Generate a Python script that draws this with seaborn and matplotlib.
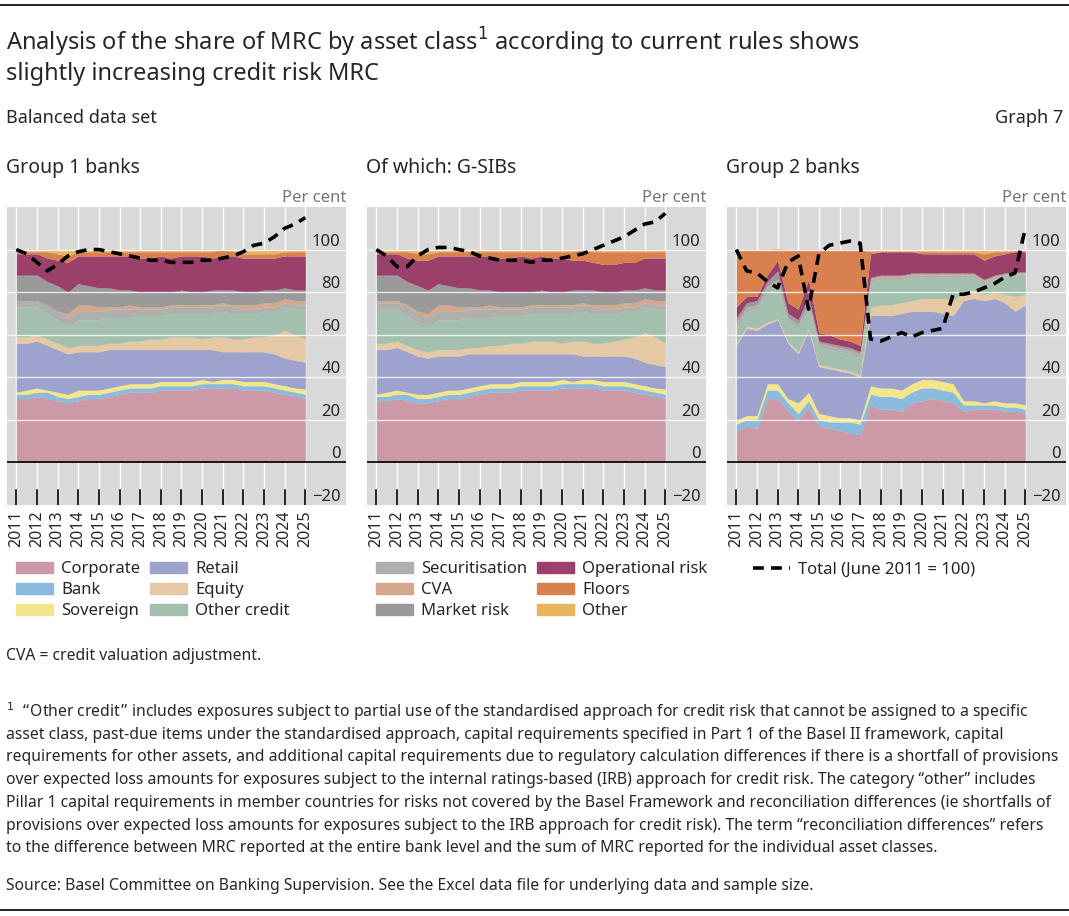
import numpy as np
import matplotlib
matplotlib.use("Agg")
import matplotlib.pyplot as plt
import seaborn as sns
from matplotlib.lines import Line2D
from matplotlib.patches import Patch

sns.set_theme(style="white")
plt.rcParams['font.family'] = ['Noto Sans', 'DejaVu Sans']

years = np.arange(2011, 2025.01, 0.5)
year_ticks = list(range(2011, 2026))
layers = ["Corporate", "Bank", "Sovereign", "Retail", "Equity", "Other credit",
          "Securitisation", "CVA", "Market risk", "Operational risk", "Floors", "Other"]
colors = {"Corporate": "#cc99a6", "Bank": "#8bbadf", "Sovereign": "#f3e68a",
          "Retail": "#9da3cc", "Equity": "#e5c9a4", "Other credit": "#a3bfad",
          "Securitisation": "#adb0ad", "CVA": "#d4a88c", "Market risk": "#9a9a9a",
          "Operational risk": "#9b3f6b", "Floors": "#d9804f", "Other": "#e8b55a"}

# cumulative tops (per cent of MRC), semi-annual 2011-2025
g1_tops = {
 "Corporate":      [30,30,31,30,29,28,29,30,30,31,32,33,33,33,34,34,34,34,35,35,35,35,34,34,34,33,32,31,30],
 "Bank":           [32,32,33,33,31,30,31,32,32,33,34,35,35,35,36,36,36,36,37,37,37,37,36,36,36,35,34,33,32],
 "Sovereign":      [33,34,35,34,33,32,34,34,34,35,36,37,37,37,38,38,38,38,39,38,39,39,38,38,38,37,36,35,34.5],
 "Retail":         [56,56,57,55,53,51,52,52,52,53,53,53,53,53,53,53,53,53,53,53,52,52,52,52,52,51,49,48,47],
 "Equity":         [59,59,60,58,56,54,55,55,55,56,56,57,57,58,58,59,59,59,58,59,59,58,58,59,59,60,62,60,58],
 "Other credit":   [73,73,73,70,67,64,67,67,67,68,68,68,69,69,69,70,70,70,70,70,71,70,70,70,71,71,73,72,72],
 "Securitisation": [76,76,76,74,71,68,71,71,71,72,72,72,72,72,72,73,73,73,73,73,74,73,72,72,73,73,75,74,74],
 "CVA":            [76,76,76,74,71,70,74,74,73,73,73,74,73,73,73,74,74,74,74,74,75,74,74,74,75,75,77,76,76],
 "Market risk":    [88,88,88,85,83,80,84,83,82,82,81,81,80,80,80,80,81,80,80,81,81,81,80,80,81,81,82,81,81],
 "Operational risk":[98,98,98,96,95,94,97,97,97,97,97,97,96,96,97,96,97,97,97,96,97,97,96,96,96,96,97,97,97],
 "Floors":         [99,99,99,99,98,97,99,99,99,99,99,99,99,99,99,99,99,99,99,99,100,99,98,98,98,98,99,99,99],
 "Other":          [100]*29,
}
g1_total = [100,98,94,90,93,97,99,100,100,99,98,97,96,95,95,94,94,94,95,95,96,97,99,102,103,106,110,112,115]

gs_tops = {
 "Corporate":      [29,29,30,29,28,28,29,30,30,31,32,33,33,33,34,34,34,34,35,35,35,35,34,34,34,33,32,31,30],
 "Bank":           [31,31,32,32,30,30,31,32,32,33,34,35,35,35,36,36,36,36,37,37,37,37,36,36,36,35,34,33,32],
 "Sovereign":      [32,33,34,33,32,32,33,34,34,35,36,37,37,37,38,38,38,38,39,38,39,39,38,38,38,37,36,35,34.5],
 "Retail":         [53,53,54,52,50,49,50,50,50,51,51,51,51,51,51,51,51,51,51,51,50,50,50,50,50,49,47,46,45],
 "Equity":         [56,56,57,55,53,52,53,53,53,54,54,55,55,56,56,57,57,57,56,57,57,56,56,57,58,59,61,59,56],
 "Other credit":   [72,72,72,69,66,64,67,67,67,68,68,68,69,69,69,70,70,70,70,70,71,70,70,70,71,71,73,72,72],
 "Securitisation": [75,75,75,73,70,68,71,71,71,72,72,72,72,72,72,73,73,73,73,73,74,73,72,72,73,73,75,74,74],
 "CVA":            [76,76,76,74,71,70,74,74,73,73,73,74,73,73,73,74,74,74,74,74,75,74,74,74,75,75,77,76,76],
 "Market risk":    [88,88,88,85,83,81,84,83,82,82,81,81,80,80,80,80,81,80,80,81,81,81,80,80,81,81,82,81,81],
 "Operational risk":[98,98,98,96,95,95,97,97,97,97,97,97,96,96,97,96,97,96,96,95,95,94,93,93,94,94,96,96,96],
 "Floors":         [99,99,99,99,98,98,99,99,99,99,99,99,99,99,99,99,99,99,99,99,100,99,99,99,99,99,99,99,99],
 "Other":          [100]*29,
}
gs_total = [100,97,92,92,97,100,101,101,100,99,97,96,95,95,95,94,95,95,96,97,98,100,102,104,106,109,112,113,117]

g2_tops = {
 "Corporate":      [15,17,16,30,30,24,20,26,17,16,15,14,13,27,25,25,24,28,29,30,29,28,24,25,25,25,24,24,23],
 "Bank":           [18,20,20,34,34,28,23,29,20,19,19,19,18,32,31,31,30,33,35,35,34,33,27,27,27,27,26,26,25],
 "Sovereign":      [20,22,22,37,37,30,28,33,23,22,21,21,20,36,35,35,34,37,39,39,38,37,29,29,28,29,28,28,27],
 "Retail":         [55,63,62,65,67,56,51,62,45,44,43,42,40,69,69,69,70,71,71,71,70,69,76,77,76,77,75,71,74],
 "Equity":         [56,64,63,66,67.5,57,52,63,46,45,44,43,41,73,74,74,75,76,77,77,77,76,80,81,79,80,79,78,79],
 "Other credit":   [62,71,72,80,83,66,63,72,54,53,52,51,49,85,86,86,86,87,87,87,87,87,87,87,84,86,87,88,88],
 "Securitisation": [66,73,74,83,86,68,65,74,56,55,54,53,51,86,87,87,87,88,88,88,88,88,88,88,85,87,88,88.5,88.5],
 "CVA":            [66,73,74,83,86,68,65,75,56,55,54,53,51,86.5,87.5,87.5,87.5,88.5,88.5,88.5,88.5,88.5,88.5,88.5,85.5,87.5,88.5,89,89],
 "Market risk":    [68,75,76,85,90,70,67,78,57,56,55,54,52,87,88,88,88,89,89,89,89,89,89,89,86,88,89,89.5,89.5],
 "Operational risk":[73,78,78,88,95,75,72,86,61,60,58,57,55,98,99,99,99,99,98,98,98,98,98,98,95,97,98,99,99],
 "Floors":         [100,100,100,100,100,100,100,100,100,100,100,100,100,99,99,99,99,99,99,99,99,99,99,99,98,99,99,99.5,99.5],
 "Other":          [100,100,100,100,100.5,100,100,100,100,100,100,100,100,100,100,100,100,100,100,100,100,100,100,100,100,100,100,100,100],
}
g2_total = [100,90,89,85,82,94,97,72,98,102,103,104,103,58,57,59,61,59,61,62,63,79,79,80,82,84,87,89,110]

panels = [("Group 1 banks", g1_tops, g1_total),
          ("Of which: G-SIBs", gs_tops, gs_total),
          ("Group 2 banks", g2_tops, g2_total)]

W, H = 1069, 916
fig = plt.figure(figsize=(W/100, H/100), dpi=100)
lefts = [7, 367, 727]
for (title, tops, total), lx in zip(panels, lefts):
    ax = fig.add_axes([lx/W, 1-505/H, 339/W, (505-207)/H])
    ax.set_facecolor("#d9d9d9")
    prev = np.zeros(len(years))
    for name in layers:
        top = np.array(tops[name], dtype=float)
        ax.fill_between(years, prev, top, color=colors[name], lw=0, zorder=2)
        prev = top
    sns.lineplot(x=years, y=total, ax=ax, color="black", lw=2.6, zorder=4)
    ax.lines[-1].set_dashes([3, 2])
    ax.set_xlim(2010.55, 2026.97)
    ax.set_ylim(-20, 120)
    for y in range(20, 101, 20):
        ax.axhline(y, color="white", lw=1, zorder=3, alpha=0.8)
    for x in year_ticks:
        ax.axvline(x, color="white", lw=1, zorder=1)
        ax.plot([x, x], [-20, -13], color="#222222", lw=1.4, zorder=5)
    ax.axhline(0, color="black", lw=1.2, zorder=5)
    for s in ax.spines.values():
        s.set_visible(False)
    ax.set_xticks(year_ticks)
    ax.set_xticklabels([str(y) for y in year_ticks], rotation=90, fontsize=11.5)
    ax.tick_params(axis="x", length=0, pad=4)
    ax.yaxis.tick_right()
    ax.set_yticks([-20, 0, 20, 40, 60, 80, 100])
    ax.set_yticklabels(["\u221220", "0", "20", "40", "60", "80", "100"], fontsize=12)
    ax.tick_params(axis="y", length=0, pad=-4)
    for lbl in ax.get_yticklabels():
        lbl.set_horizontalalignment("right")
        lbl.set_verticalalignment("bottom")
    ax.grid(False)
    ax.text(1.0, 1.005, "Per cent", transform=ax.transAxes, ha="right", va="bottom",
            fontsize=12, color="#777777")
    fig.text((lx-1)/W, 1-168/H, title, fontsize=14, va="center", ha="left")

def fy(p):
    return 1 - p/H

fig.add_artist(Line2D([0, 1], [fy(5), fy(5)], color="black", lw=1.2))
fig.add_artist(Line2D([0, 1], [fy(910), fy(910)], color="black", lw=1.2))
fig.text(6/W, fy(42), "Analysis of the share of MRC by asset class$^1$ according to current rules shows",
         fontsize=17, va="center")
fig.text(6/W, fy(74), "slightly increasing credit risk MRC", fontsize=17, va="center")
fig.text(6/W, fy(118), "Balanced data set", fontsize=13, va="center")
fig.text(1063/W, fy(118), "Graph 7", fontsize=13, va="center", ha="right")

def leg(names, x):
    hs = [Patch(color=colors[n], label=n) for n in names]
    fig.legend(handles=hs, loc="upper left", bbox_to_anchor=(x/W, fy(553)), ncol=2,
               frameon=False, fontsize=12, handlelength=2.2, handleheight=0.6,
               columnspacing=0.6, labelspacing=0.3, handletextpad=0.5, borderpad=0)

leg(["Corporate", "Bank", "Sovereign", "Retail", "Equity", "Other credit"], 8)
leg(["Securitisation", "CVA", "Market risk", "Operational risk", "Floors", "Other"], 368)
fig.legend(handles=[Line2D([], [], color="black", lw=2.6, dashes=[3, 2], label="Total (June 2011 = 100)")],
           loc="upper left", bbox_to_anchor=(745/W, fy(553)), frameon=False, fontsize=12,
           handlelength=2.2, handletextpad=0.5, borderpad=0)

fig.text(6/W, fy(656), "CVA = credit valuation adjustment.", fontsize=11.3, va="center")
foot = [
 "$^1$  \u201cOther credit\u201d includes exposures subject to partial use of the standardised approach for credit risk that cannot be assigned to a specific",
 "asset class, past-due items under the standardised approach, capital requirements specified in Part 1 of the Basel II framework, capital",
 "requirements for other assets, and additional capital requirements due to regulatory calculation differences if there is a shortfall of provisions",
 "over expected loss amounts for exposures subject to the internal ratings-based (IRB) approach for credit risk. The category \u201cother\u201d includes",
 "Pillar 1 capital requirements in member countries for risks not covered by the Basel Framework and reconciliation differences (ie shortfalls of",
 "provisions over expected loss amounts for exposures subject to the IRB approach for credit risk). The term \u201creconciliation differences\u201d refers",
 "to the difference between MRC reported at the entire bank level and the sum of MRC reported for the individual asset classes.",
]
for i, line in enumerate(foot):
    fig.text(6/W, fy(712 + i*22.7), line, fontsize=11.3, va="center")
fig.text(6/W, fy(886), "Source: Basel Committee on Banking Supervision. See the Excel data file for underlying data and sample size.",
         fontsize=11.3, va="center")

fig.savefig("out.png", dpi=100)
